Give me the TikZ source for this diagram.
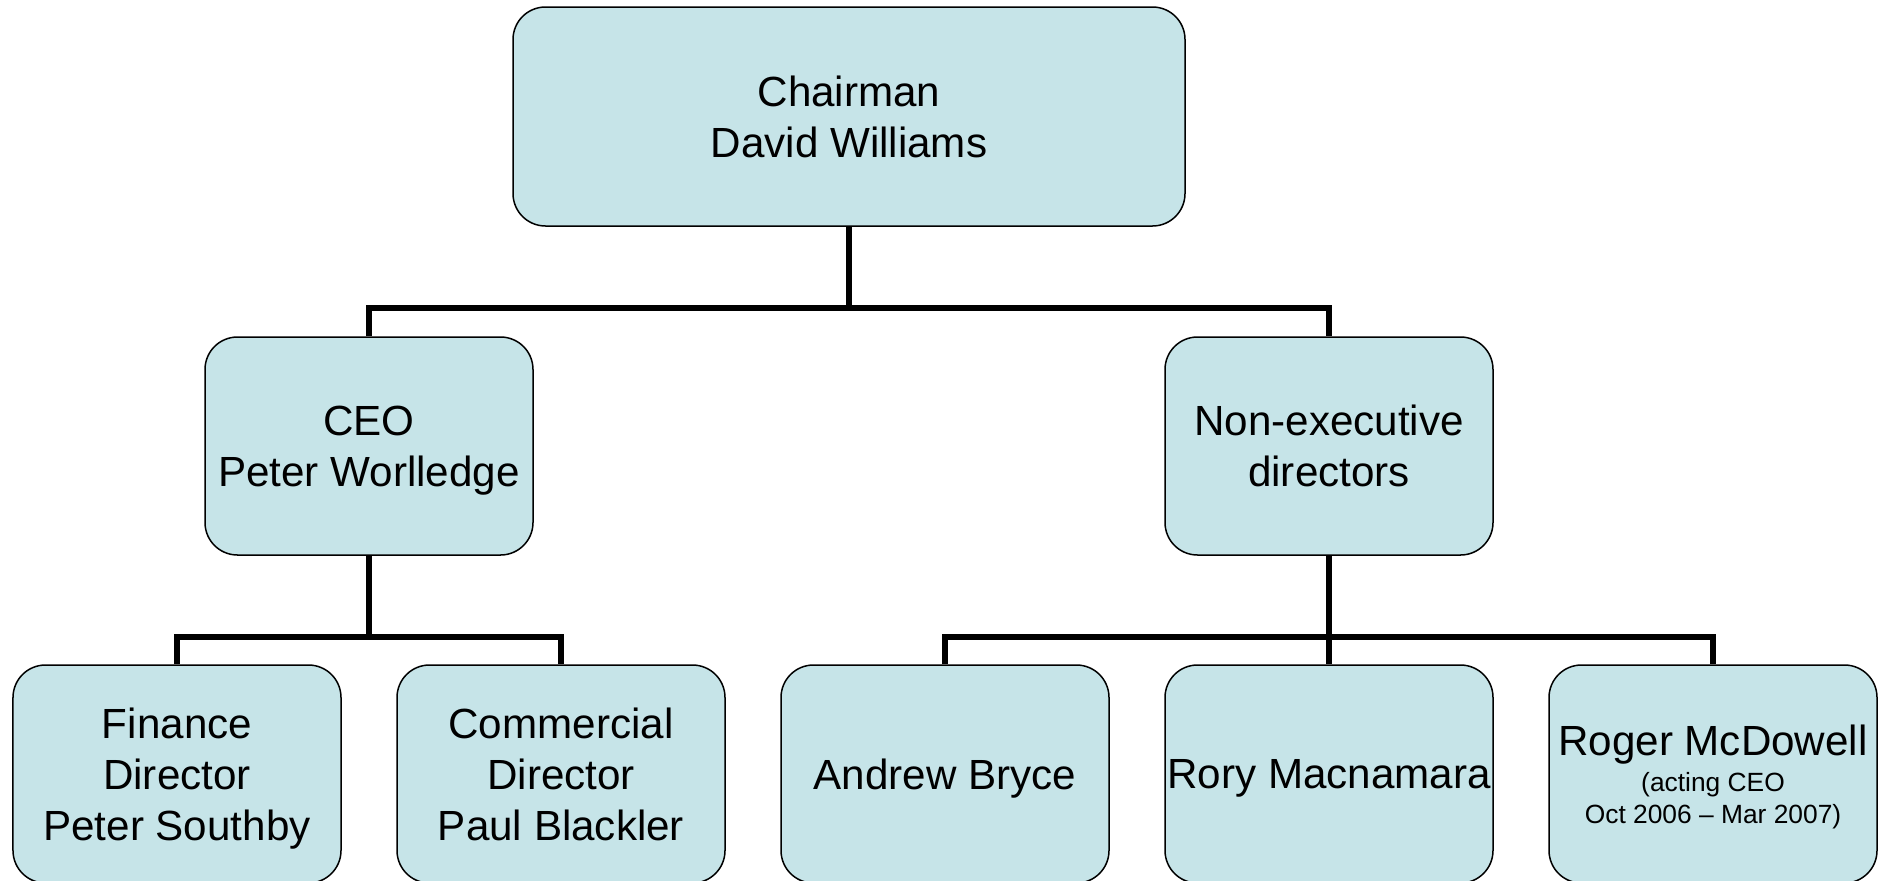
\documentclass[tikz,border=0pt]{standalone}
\usepackage{fontspec}
\setmainfont{Liberation Sans}
\usepackage{tikz}
\definecolor{boxfill}{RGB}{198,228,232}

\begin{document}
\begin{tikzpicture}[
  post/.style={draw=black, line width=0.03cm, fill=boxfill, rounded corners=0.65cm,
    minimum width=6.56cm, minimum height=4.36cm, inner sep=0pt, align=center,
    text depth=0pt, font=\fontsize{24}{29}\selectfont},
  link/.style={black, line width=0.12cm}
]

\useasboundingbox (0,0) rectangle (37.56,-17.6);

\node[post, minimum width=13.44cm, minimum height=4.38cm] (chair) at (16.98,-2.33) {Chairman\\David Williams};

\node[post] (ceo) at (7.38,-8.92) {CEO\\Peter Worlledge};
\node[post] (ned) at (26.58,-8.92) {Non-executive\\directors};

\node[post] (fin) at (3.54,-15.48) {Finance\\Director\\Peter Southby};
\node[post] (com) at (11.22,-15.48) {Commercial\\Director\\Paul Blackler};
\node[post] (bryce) at (18.90,-15.48) {Andrew Bryce};
\node[post] (rory) at (26.58,-15.48) {Rory Macnamara};
\node[post] (roger) at (34.26,-15.48) {Roger McDowell\\[-8pt]
  {\fontsize{15}{18}\selectfont (acting CEO}\\[-11pt]
  {\fontsize{15}{18}\selectfont Oct 2006 -- Mar 2007)}};

\coordinate (bartop) at (0,-6.16);
\coordinate (barlow) at (0,-12.74);

\draw[link] (chair.south) -- (chair.south |- bartop);
\draw[link] (ceo.north) |- (chair.south |- bartop) -| (ned.north);

\draw[link] (ceo.south) -- (ceo.south |- barlow);
\draw[link] (fin.north) |- (ceo.south |- barlow) -| (com.north);

\draw[link] (ned.south) -- (rory.north);
\draw[link] (bryce.north) |- (ned.south |- barlow) -| (roger.north);
\end{tikzpicture}
\end{document}
